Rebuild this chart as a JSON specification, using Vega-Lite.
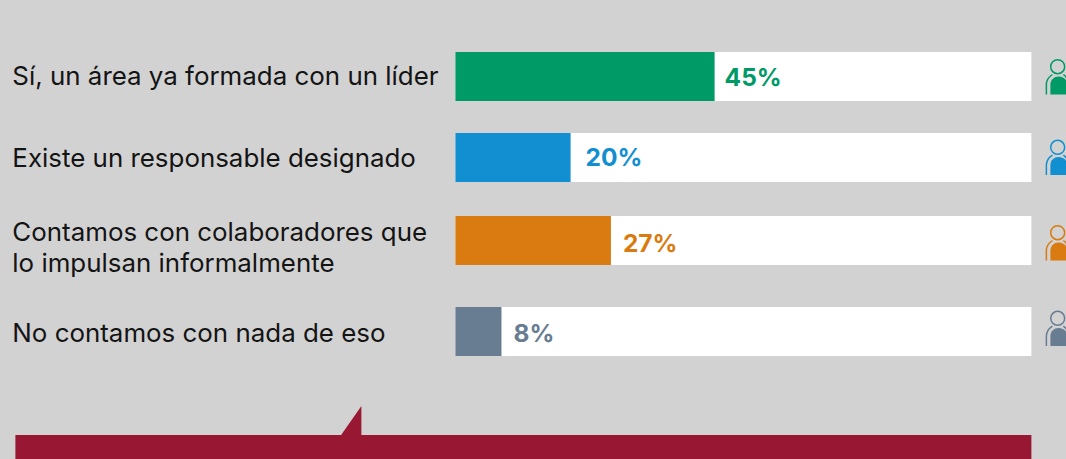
{"$schema":"https://vega.github.io/schema/vega-lite/v6.json","width":1066,"height":459,"autosize":"none","padding":0,"background":"#d2d2d2","config":{"view":{"stroke":null}},
"datasets":{"filas":[
{"categoria":"Sí, un área ya formada con un líder","orden":1,"valor":0.45,"total":1},
{"categoria":"Existe un responsable designado","orden":2,"valor":0.20,"total":1},
{"categoria":"Contamos con colaboradores que\nlo impulsan informalmente","orden":3,"valor":0.27,"total":1},
{"categoria":"No contamos con nada de eso","orden":4,"valor":0.08,"total":1}],
"pie":[{"desde":-0.7639,"hasta":1,"fila":5.137,"fin":5.5,"pico":-0.1632}]},
"data":{"name":"filas"},
"layer":[
{"mark":{"type":"bar","orient":"horizontal","height":49,"color":"#ffffff"},"encoding":{"y":{"field":"orden","type":"quantitative","axis":null,"scale":{"domain":[1,2,3,4],"range":[76.5,157.5,240.5,331.5],"padding":0}},"x":{"field":"total","type":"quantitative","axis":null,"scale":{"domain":[0,1],"range":[455.4,1031.4],"padding":0}}}},
{"mark":{"type":"bar","orient":"horizontal","height":49},"encoding":{"y":{"field":"orden","type":"quantitative"},"x":{"field":"valor","type":"quantitative"},"color":{"field":"categoria","type":"nominal","legend":null,"scale":{"domain":["Sí, un área ya formada con un líder","Existe un responsable designado","Contamos con colaboradores que\nlo impulsan informalmente","No contamos con nada de eso"],"range":["#009a66","#128fd0","#d97b10","#687c92"]}}}},
{"mark":{"type":"text","align":"left","baseline":"middle","font":"Inter","fontWeight":700,"fontSize":24.5,"dx":{"expr":"datum.orden==1?10:datum.orden==2?15:12"},"dy":{"expr":"datum.orden==1?2:datum.orden==2?1:datum.orden==3?4:3"}},"encoding":{"y":{"field":"orden","type":"quantitative"},"x":{"field":"valor","type":"quantitative"},"text":{"field":"valor","type":"quantitative","format":".0%"},"color":{"field":"categoria","type":"nominal","legend":null}}},
{"mark":{"type":"text","align":"left","baseline":"middle","font":"Inter","fontSize":25.9,"lineBreak":"\n","lineHeight":31,"color":"#141414","dy":{"expr":"datum.orden==3?-8:datum.orden==1?0:datum.orden==2?1:2"}},"encoding":{"y":{"field":"orden","type":"quantitative"},"x":{"datum":-0.7692},"text":{"field":"categoria","type":"nominal"}}},
{"mark":{"type":"point","shape":"M0.3 -16.8 A7 7 0 1 1 0.3 -2.8 A7 7 0 1 1 0.3 -16.8 Z M-11 18 L-11 8 C-11 3 -8 0 -5 -2 M6 -2 C9 0 11 3 11 8","size":4,"filled":false,"strokeWidth":1.5,"opacity":1,"yOffset":{"expr":"datum.orden==1?0:datum.orden==2?-0.4:datum.orden==3?2:-3.4"}},"encoding":{"y":{"field":"orden","type":"quantitative"},"x":{"datum":1.0451},"color":{"field":"categoria","type":"nominal","legend":null}}},
{"mark":{"type":"point","shape":"M-7 18 L-7 8 C-7 3 -3 0 1 0 C6 0 10 3 10 8 L10 18 Z","size":4,"filled":true,"opacity":1,"yOffset":{"expr":"datum.orden==1?0:datum.orden==2?-0.4:datum.orden==3?2:-3.4"}},"encoding":{"y":{"field":"orden","type":"quantitative"},"x":{"datum":1.0451},"color":{"field":"categoria","type":"nominal","legend":null}}},
{"data":{"name":"pie"},"mark":{"type":"rect","color":"#981833"},"encoding":{"x":{"field":"desde","type":"quantitative"},"x2":{"field":"hasta"},"y":{"field":"fila","type":"quantitative"},"y2":{"field":"fin"}}},
{"data":{"name":"pie"},"mark":{"type":"point","shape":"M-21 1 L0 -29 L0 1 Z","size":4,"filled":true,"opacity":1,"color":"#981833"},"encoding":{"x":{"field":"pico","type":"quantitative"},"y":{"field":"fila","type":"quantitative"}}}
]}
